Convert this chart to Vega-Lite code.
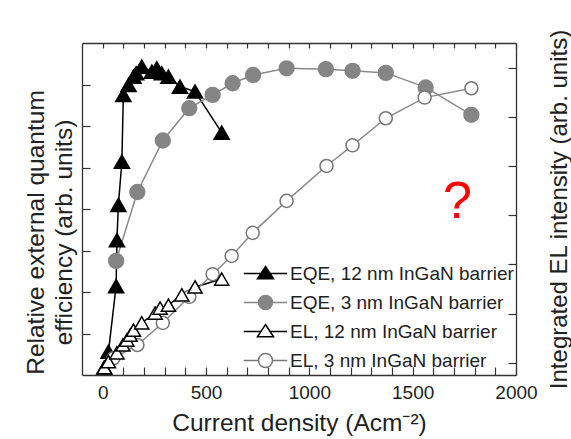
{
  "$schema": "https://vega.github.io/schema/vega-lite/v6.json",
  "width": 434,
  "height": 332,
  "autosize": {"type": "none"},
  "padding": {"left": 82, "top": 43, "right": 55, "bottom": 64},
  "background": "white",
  "config": {
    "view": {"stroke": null},
    "font": "Liberation Sans",
    "axis": {"domainColor": "#333", "domainWidth": 1.3, "tickColor": "#333", "tickWidth": 1.2, "grid": false, "labelFont": "Liberation Sans", "titleFont": "Liberation Sans", "labelColor": "#222", "titleColor": "#222", "titleFontWeight": "normal"}
  },
  "datasets": {
    "eqe12": [
      {"J": 8, "v": 0.18},
      {"J": 28, "v": 0.56},
      {"J": 65, "v": 2.14},
      {"J": 69, "v": 3.25},
      {"J": 76, "v": 4.1},
      {"J": 93, "v": 5.14},
      {"J": 100, "v": 6.75},
      {"J": 125, "v": 6.99},
      {"J": 149, "v": 7.19},
      {"J": 162, "v": 7.27},
      {"J": 189, "v": 7.43},
      {"J": 238, "v": 7.31},
      {"J": 262, "v": 7.39},
      {"J": 286, "v": 7.27},
      {"J": 318, "v": 7.19},
      {"J": 374, "v": 6.95},
      {"J": 447, "v": 6.83},
      {"J": 576, "v": 5.84}
    ],
    "eqe3": [
      {"J": 65, "v": 2.75},
      {"J": 168, "v": 4.41},
      {"J": 291, "v": 5.65},
      {"J": 419, "v": 6.43},
      {"J": 532, "v": 6.75},
      {"J": 629, "v": 7.03},
      {"J": 728, "v": 7.23},
      {"J": 890, "v": 7.39},
      {"J": 1080, "v": 7.37},
      {"J": 1209, "v": 7.33},
      {"J": 1370, "v": 7.28},
      {"J": 1563, "v": 6.93},
      {"J": 1784, "v": 6.27}
    ],
    "el12": [
      {"J": 8, "r": 0.15},
      {"J": 28, "r": 0.27},
      {"J": 69, "r": 0.45},
      {"J": 98, "r": 0.61},
      {"J": 117, "r": 0.71},
      {"J": 133, "r": 0.81},
      {"J": 149, "r": 0.91},
      {"J": 189, "r": 1.06},
      {"J": 254, "r": 1.26},
      {"J": 278, "r": 1.36},
      {"J": 318, "r": 1.42},
      {"J": 383, "r": 1.63},
      {"J": 447, "r": 1.79},
      {"J": 576, "r": 1.95}
    ],
    "el3": [
      {"J": 52, "r": 0.34},
      {"J": 168, "r": 0.61},
      {"J": 291, "r": 1.06},
      {"J": 419, "r": 1.59},
      {"J": 532, "r": 2.05},
      {"J": 624, "r": 2.42},
      {"J": 726, "r": 2.89},
      {"J": 890, "r": 3.54},
      {"J": 1083, "r": 4.25},
      {"J": 1209, "r": 4.67},
      {"J": 1370, "r": 5.22},
      {"J": 1558, "r": 5.64},
      {"J": 1784, "r": 5.83}
    ]
  },
  "layer": [
    {
      "encoding": {
        "x": {"field": "J", "type": "quantitative", "scale": {"domain": [-100, 2000], "nice": false, "zero": false},
          "axis": {"orient": "bottom", "values": [0,100,200,300,400,500,600,700,800,900,1000,1100,1200,1300,1400,1500,1600,1700,1800,1900,2000],
            "labelExpr": "datum.value % 500 === 0 ? datum.label : ''", "format": "d", "tickSize": -8, "labelPadding": 16, "labelFontSize": 19, "labelFlush": false, "labelOverlap": false,
            "encode": {"ticks": {"y2": {"value": {"expr": "datum.value % 500 === 0 ? -8 : -4"}}}},
            "title": "Current density (Acm⁻²)", "titleFontSize": 24.5, "titleY": 55, "titleBaseline": "alphabetic"}},
        "y": {"field": "v", "type": "quantitative", "scale": {"domain": [0, 8], "nice": false, "zero": false},
          "axis": {"orient": "left", "values": [1,2,3,4,5,6,7], "labels": false, "tickSize": -8,
            "title": ["Relative external quantum", "efficiency (arb. units)"], "titleFontSize": 24.5, "titleAngle": -90, "titleX": -39, "titleY": 189, "titleBaseline": "alphabetic", "titleAlign": "center", "titleLineHeight": 28}}
      },
      "layer": [
        {"data": {"name": "eqe12"}, "mark": {"type": "line", "color": "black", "strokeWidth": 1.5}},
        {"data": {"name": "eqe3"}, "mark": {"type": "line", "color": "#8a8a8a", "strokeWidth": 1.5}},
        {"data": {"name": "eqe3"}, "mark": {"type": "point", "shape": "circle", "size": 220, "opacity": 1, "strokeWidth": 1.5, "fill": "#858585", "stroke": "#858585", "filled": true}},
        {"data": {"name": "eqe12"}, "mark": {"type": "point", "shape": "triangle-up", "size": 230, "opacity": 1, "strokeWidth": 1.5, "fill": "black", "stroke": "black", "filled": true}},
        {"data": {"values": []}, "mark": {"type": "point", "opacity": 1, "strokeWidth": 1.5},
          "encoding": {
            "shape": {"field": "series", "type": "nominal", "sort": null,
              "scale": {"domain": ["EQE, 12 nm InGaN barrier", "EQE, 3 nm InGaN barrier", "EL, 12 nm InGaN barrier", "EL, 3 nm InGaN barrier"],
                "range": ["M-3.1,0H-0.66M0.66,0H3.1M0,-1L1.15,0.75L-1.15,0.75Z", "M-3.1,0H-1M1,0H3.1M-1,0A1,1 0 1,1 1,0A1,1 0 1,1 -1,0Z", "M-3.1,0H-0.66M0.66,0H3.1M0,-1L1.15,0.75L-1.15,0.75Z", "M-3.1,0H-1M1,0H3.1M-1,0A1,1 0 1,1 1,0A1,1 0 1,1 -1,0Z"]},
              "legend": {"title": null, "orient": "none", "legendX": 161, "legendY": 221, "labelFontSize": 19, "labelColor": "#222", "labelFont": "Liberation Sans", "labelLimit": 400,
                "symbolSize": 196, "symbolOffset": 13, "labelOffset": 15, "rowPadding": 8, "padding": 0, "symbolStrokeWidth": 1.5, "symbolOpacity": 1}},
            "fill": {"field": "series", "type": "nominal", "sort": null,
              "scale": {"domain": ["EQE, 12 nm InGaN barrier", "EQE, 3 nm InGaN barrier", "EL, 12 nm InGaN barrier", "EL, 3 nm InGaN barrier"], "range": ["black", "#858585", "white", "white"]}},
            "stroke": {"field": "series", "type": "nominal", "sort": null,
              "scale": {"domain": ["EQE, 12 nm InGaN barrier", "EQE, 3 nm InGaN barrier", "EL, 12 nm InGaN barrier", "EL, 3 nm InGaN barrier"], "range": ["black", "#858585", "black", "#777777"]}}
          }},
        {"data": {"values": [{"J": 1717, "v": 3.78, "t": "?"}]}, "mark": {"type": "text", "color": "red", "fontSize": 52, "baseline": "alphabetic", "align": "center", "font": "Liberation Sans"},
          "encoding": {"text": {"field": "t"}}}
      ]
    },
    {
      "encoding": {
        "x": {"field": "J", "type": "quantitative", "scale": {"domain": [-100, 2000], "nice": false, "zero": false},
          "axis": {"orient": "top", "values": [0,100,200,300,400,500,600,700,800,900,1000,1100,1200,1300,1400,1500,1600,1700,1800,1900,2000], "labels": false, "tickSize": -5, "title": null}},
        "y": {"field": "r", "type": "quantitative", "scale": {"domain": [0, 6.75], "nice": false, "zero": false},
          "axis": {"orient": "right", "values": [0.25,1.25,2.25,3.25,4.25,5.25,6.25], "labels": false, "tickSize": -8,
            "title": "Integrated EL intensity (arb. units)", "titleFontSize": 24, "titleAngle": -90, "titleX": 50, "titleY": 166, "titleBaseline": "alphabetic", "titleAlign": "center"}}
      },
      "layer": [
        {"data": {"name": "el12"}, "mark": {"type": "line", "color": "black", "strokeWidth": 1.5}},
        {"data": {"name": "el3"}, "mark": {"type": "line", "color": "#8a8a8a", "strokeWidth": 1.5}},
        {"data": {"name": "el3"}, "mark": {"type": "point", "shape": "circle", "size": 170, "opacity": 1, "strokeWidth": 1.5, "fill": "white", "stroke": "#777777", "filled": false}},
        {"data": {"name": "el12"}, "mark": {"type": "point", "shape": "triangle-up", "size": 200, "opacity": 1, "strokeWidth": 1.5, "fill": "white", "stroke": "black", "filled": false}}
      ]
    }
  ],
  "resolve": {"scale": {"x": "independent", "y": "independent"}, "axis": {"x": "independent", "y": "independent"}}
}
